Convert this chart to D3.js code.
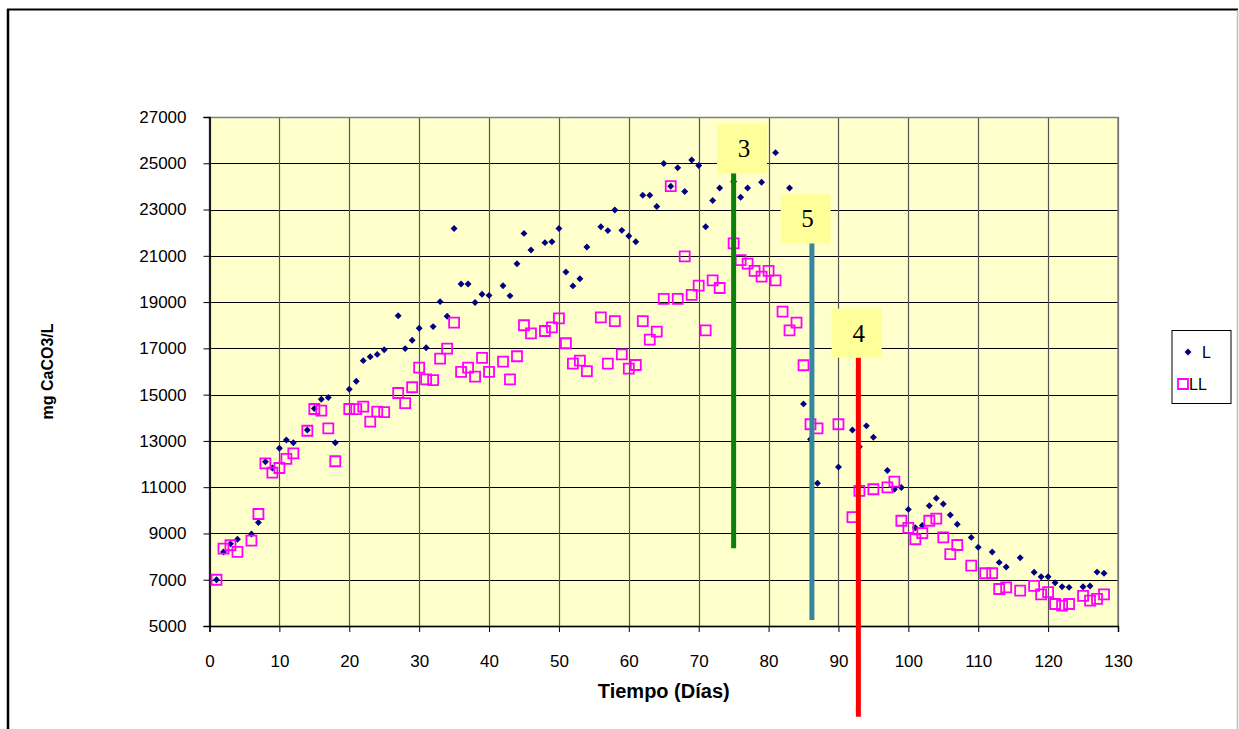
<!DOCTYPE html>
<html>
<head>
<meta charset="utf-8">
<script src="https://cdn.jsdelivr.net/npm/d3@7/dist/d3.min.js"></script>
<style>
  html, body { margin: 0; padding: 0; background: #fff; }
  svg { display: block; }
</style>
</head>
<body>
<svg id="chart" width="1239" height="729"></svg>
<script>
// Series L: day and mg CaCO3/L
const daysL = [1,2,3,4,6,7,8,9,10,11,12,14,15,16,17,18,20,21,22,23,24,25,27,28,29,30,31,32,33,34,35,36,37,38,39,40,42,43,44,45,46,48,49,50,51,52,53,54,56,57,58,59,60,61,62,63,64,65,66,67,68,69,70,71,72,73,75,76,77,79,81,83,85,86,87,90,92,93,94,95,97,98,99,100,101,102,103,104,105,106,107,109,110,112,113,114,116,118,119,120,121,122,123,125,126,127,128];
const valuesL = [7000,8200,8550,8750,8980,9470,12100,11830,12680,13040,12920,13470,14400,14800,14880,12920,15230,15580,16470,16640,16740,16940,18410,16990,17350,17870,17030,17940,19020,18390,22180,19780,19780,18980,19340,19290,19710,19270,20660,21970,21250,21570,21610,22180,20300,19700,20010,21380,22260,22090,22980,22100,21860,21610,23620,23620,23130,24990,24010,24810,23780,25140,24900,22260,23390,23930,24210,23530,23930,24180,25460,23930,14600,13070,11170,11870,13470,12750,13650,13160,11720,10910,10990,10040,9250,9340,10200,10520,10270,9800,9400,8830,8400,8200,7750,7550,7950,7320,7130,7130,6870,6700,6670,6700,6730,7330,7280];

// Series LL: day and mg CaCO3/L
const daysLL = [1,2,3,4,6,7,8,9,10,11,12,14,15,16,17,18,20,21,22,23,24,25,27,28,29,30,31,32,33,34,35,36,37,38,39,40,42,43,44,45,46,48,49,50,51,52,53,54,56,57,58,59,60,61,62,63,64,65,66,67,68,69,70,71,72,73,75,76,77,78,79,80,81,82,83,84,85,86,87,90,92,93,95,97,98,99,100,101,102,103,104,105,106,107,109,111,112,113,114,116,118,119,120,121,122,123,125,126,127,128];
const valuesLL = [7000,8340,8490,8200,8690,9840,12030,11630,11830,12220,12460,13440,14380,14310,13540,12120,14380,14370,14480,13830,14270,14240,15070,14630,15320,16170,15660,15630,16560,16990,18110,15980,16170,15780,16590,15980,16430,15660,16660,18000,17650,17750,17910,18300,17220,16340,16470,16020,18340,16340,18180,16740,16120,16280,18180,17380,17720,19140,24010,19140,20980,19310,19710,17780,19940,19610,21540,20810,20660,20350,20100,20350,19940,18590,17780,18110,16270,13720,13540,13720,9710,10840,10910,10990,11240,9550,9240,8750,9010,9550,9640,8830,8110,8500,7610,7280,7280,6600,6670,6530,6730,6370,6460,5950,5880,5950,6300,6100,6170,6370];

// Axis ticks
const xTicks = [0,10,20,30,40,50,60,70,80,90,100,110,120,130];
const yTicks = [5000,7000,9000,11000,13000,15000,17000,19000,21000,23000,25000,27000];

// Event markers: label, day of the event, span of the line (mg CaCO3/L), label-box centre day
const markerLabels = ["3", "5", "4"];
const markerDays = [75, 86.2, 92.85];
const markerTops = [24570, 21540, 16600];
const markerBottoms = [8360, 5260, 1080];
const markerBoxDays = [76.2, 85.3, 92.6];
const markerColors = ["#0b7f0b", "#34879c", "#ff0000"];

const seriesNames = ["L", "LL"];

const SANS = "Arial, 'Liberation Sans', sans-serif";
const SERIF = "'Times New Roman', 'Liberation Serif', serif";

const svg = d3.select("#chart").attr("font-family", SANS);

// Outer chart frame
svg.append("line").attr("x1", 8).attr("x2", 8).attr("y1", 9).attr("y2", 729)
  .attr("stroke", "#000").attr("stroke-width", 2.5);
svg.append("line").attr("x1", 7).attr("x2", 1238).attr("y1", 9.5).attr("y2", 9.5)
  .attr("stroke", "#000").attr("stroke-width", 2);
svg.append("line").attr("x1", 1237.5).attr("x2", 1237.5).attr("y1", 10).attr("y2", 729)
  .attr("stroke", "#bdbdbd").attr("stroke-width", 1.5);

const x = d3.scaleLinear().domain([0, 130]).range([209.5, 1118]);
const y = d3.scaleLinear().domain([5000, 27000]).range([626, 117]);

const [x0, x1] = x.range();
const [y0, y1] = y.range();

// Plot area
svg.append("rect")
  .attr("x", x0).attr("y", y1).attr("width", x1 - x0).attr("height", y0 - y1)
  .attr("fill", "#ffffcc");

// Gridlines
svg.append("g").selectAll("line").data(yTicks).join("line")
  .attr("x1", x0).attr("x2", x1)
  .attr("y1", d => Math.round(y(d)) + 0.5).attr("y2", d => Math.round(y(d)) + 0.5)
  .attr("stroke", "#000").attr("stroke-width", 1);
svg.append("g").selectAll("line").data(xTicks).join("line")
  .attr("x1", d => Math.round(x(d)) + 0.5).attr("x2", d => Math.round(x(d)) + 0.5)
  .attr("y1", y1).attr("y2", y0)
  .attr("stroke", "#555").attr("stroke-width", 1.2);

// Plot border
svg.append("rect")
  .attr("x", x0).attr("y", y1 + 0.5).attr("width", x1 - x0).attr("height", y0 - y1)
  .attr("fill", "none").attr("stroke", "#808080").attr("stroke-width", 1.5);

// Axes
const yAxis = d3.axisLeft(y).tickValues(yTicks).tickSize(6).tickPadding(17).tickFormat(d3.format("d"));
const xAxis = d3.axisBottom(x).tickValues(xTicks).tickSize(6).tickPadding(23).tickFormat(d3.format("d"));

const gy = svg.append("g").attr("transform", `translate(${x0},0)`).call(yAxis);
const gx = svg.append("g").attr("transform", `translate(0,${y0})`).call(xAxis);
[gy, gx].forEach(g => {
  g.attr("font-family", SANS).attr("font-size", 17);
  g.select(".domain").attr("stroke", "#000").attr("stroke-width", 1.5);
  g.selectAll(".tick line").attr("stroke", "#000").attr("stroke-width", 1);
  g.selectAll(".tick text").attr("fill", "#000");
});

// Axis titles
svg.append("text").attr("x", (x0 + x1) / 2).attr("y", 698)
  .attr("text-anchor", "middle").attr("font-weight", "bold").attr("font-size", 20)
  .text("Tiempo (Días)");
svg.append("text")
  .attr("transform", `translate(53,${(y0 + y1) / 2}) rotate(-90)`)
  .attr("text-anchor", "middle").attr("font-weight", "bold").attr("font-size", 16)
  .text("mg CaCO3/L");

// Series L: navy diamonds
const ptsL = daysL.map((d, i) => ({ day: d, v: valuesL[i] }));
svg.append("g").selectAll("path").data(ptsL).join("path")
  .attr("d", d3.symbol(d3.symbolSquare, 24))
  .attr("transform", d => `translate(${x(d.day)},${y(d.v)}) rotate(45)`)
  .attr("fill", "#000080");

// Series LL: hollow magenta squares
const ptsLL = daysLL.map((d, i) => ({ day: d, v: valuesLL[i] }));
svg.append("g").selectAll("path").data(ptsLL).join("path")
  .attr("d", d3.symbol(d3.symbolSquare, 100))
  .attr("transform", d => `translate(${x(d.day)},${y(d.v)})`)
  .attr("fill", "none").attr("stroke", "#ff00ff").attr("stroke-width", 1.8);

// Event markers: vertical bars with labelled boxes
const markers = markerLabels.map((l, i) => ({
  label: l, day: markerDays[i], top: markerTops[i], bottom: markerBottoms[i],
  boxDay: markerBoxDays[i], color: markerColors[i]
}));
const mg = svg.append("g").selectAll("g").data(markers).join("g");
mg.append("line")
  .attr("x1", d => x(d.day)).attr("x2", d => x(d.day))
  .attr("y1", d => y(d.top)).attr("y2", d => y(d.bottom))
  .attr("stroke", d => d.color).attr("stroke-width", 5);
mg.append("rect")
  .attr("x", d => x(d.boxDay) - 25).attr("y", d => y(d.top) - 49)
  .attr("width", 50).attr("height", 49)
  .attr("fill", "#ffff99");
mg.append("text")
  .attr("x", d => x(d.boxDay) + 2).attr("y", d => y(d.top) - 16)
  .attr("text-anchor", "middle")
  .attr("font-family", SERIF)
  .attr("font-size", 25).attr("fill", "#000")
  .text(d => d.label);

// Legend
const lg = svg.append("g");
lg.append("rect").attr("x", 1172).attr("y", 330.5).attr("width", 59).attr("height", 73)
  .attr("fill", "#fff").attr("stroke", "#000").attr("stroke-width", 1);
lg.append("path").attr("d", d3.symbol(d3.symbolSquare, 24))
  .attr("transform", "translate(1188,352) rotate(45)").attr("fill", "#000080");
lg.append("text").attr("x", 1202).attr("y", 358).attr("font-size", 16).text(seriesNames[0]);
lg.append("path").attr("d", d3.symbol(d3.symbolSquare, 100))
  .attr("transform", "translate(1183,384)")
  .attr("fill", "none").attr("stroke", "#ff00ff").attr("stroke-width", 1.8);
lg.append("text").attr("x", 1189).attr("y", 390).attr("font-size", 16).text(seriesNames[1]);
</script>
</body>
</html>
